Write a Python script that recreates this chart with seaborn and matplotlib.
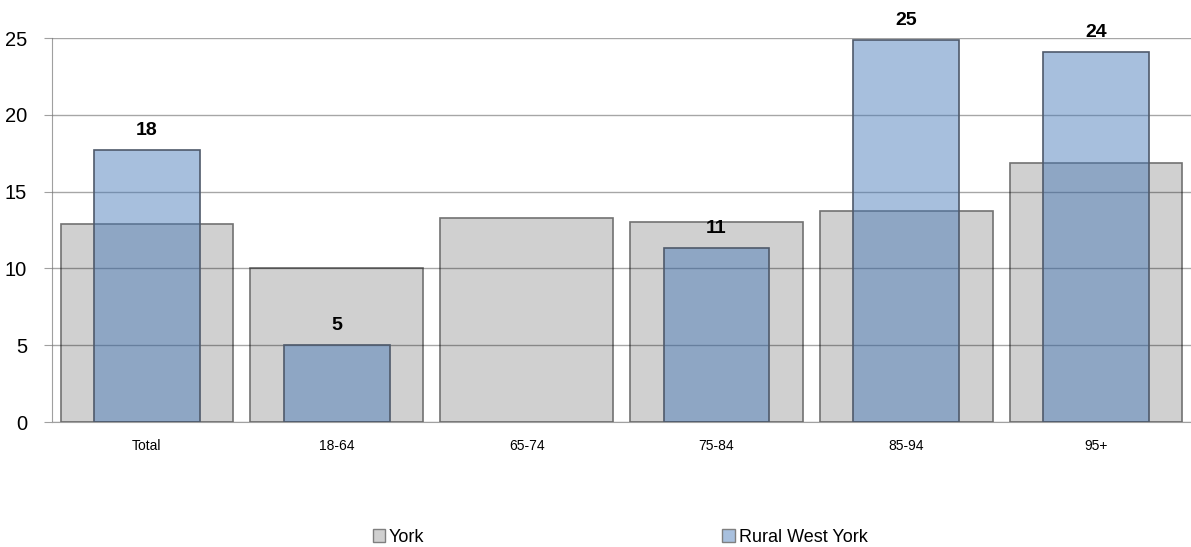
import numpy as np
import pandas as pd
import matplotlib
matplotlib.use("Agg")
import matplotlib.pyplot as plt
from matplotlib.colors import to_rgba
from matplotlib.patches import Patch
import seaborn as sns

# data
categories = ["Total", "18-64", "65-74", "75-84", "85-94", "95+"]
york = [12.9, 10.0, 13.25, 13.05, 13.75, 16.85]
rural = [17.7, 5.0, np.nan, 11.35, 24.85, 24.1]
rural_labels = ["18", "5", "", "11", "25", "24"]

df = pd.DataFrame({"Age": categories, "York": york, "Rural West York": rural})

sns.set_style("white")
plt.rcParams["font.family"] = ["Liberation Sans", "DejaVu Sans"]

fig = plt.figure(figsize=(11.91, 5.47), dpi=100)
ax = fig.add_axes([52 / 1191, 1 - 422 / 547, 1 - 52 / 1191, 384 / 547])

grey = "#d0d0d0"
blue = "#4578b8"

sns.barplot(data=df, x="Age", y="York", order=categories, color=grey,
            width=0.91, edgecolor="#727272", linewidth=1.2, saturation=1,
            ax=ax, zorder=2)
n_york = len(ax.patches)
sns.barplot(data=df, x="Age", y="Rural West York", order=categories, color=blue,
            width=0.556, edgecolor="#4f5a6b", linewidth=1.2, saturation=1,
            ax=ax, zorder=3)

# translucent fill, solid edge for the rural bars
for p in ax.patches[n_york:]:
    p.set_alpha(None)
    p.set_facecolor(to_rgba(blue, 0.47))
    p.set_edgecolor("#4f5a6b")

# labels above the rural bars
for i, (v, lab) in enumerate(zip(rural, rural_labels)):
    if lab:
        ax.annotate(lab, (i, v), xytext=(0, 14), textcoords="offset points",
                    ha="center", va="center", fontsize=14, fontweight="bold",
                    color="black")

ax.set_xlim(-0.5, len(categories) - 0.5)
ax.set_ylim(0, 25)
ax.set_yticks([0, 5, 10, 15, 20, 25])
ax.grid(axis="y", color="black", alpha=0.35, linewidth=1, zorder=4)
ax.set_axisbelow(False)

ax.set_xlabel("")
ax.set_ylabel("")
ax.tick_params(axis="x", which="major", length=0, labelsize=10, pad=12,
               labelcolor="black")
ax.set_xticks(np.arange(-0.5, len(categories) + 0.5, 1), minor=True)
ax.tick_params(axis="x", which="minor", length=5, color="#a0a0a0", direction="out")
ax.tick_params(axis="y", length=6, color="#a0a0a0", labelsize=14.5, pad=12,
               left=True, labelcolor="black")

for s in ["top", "right"]:
    ax.spines[s].set_visible(False)
ax.spines["left"].set_color("#a0a0a0")
ax.spines["bottom"].set_color("#a0a0a0")

handles = [
    Patch(facecolor=grey, edgecolor="#7f7f7f", label="York"),
    Patch(facecolor="#a8c0de", edgecolor="#7f7f7f", label="Rural West York"),
]
fig.legend(handles=handles, loc="center", bbox_to_anchor=(620 / 1191, 1 - 537 / 547),
           ncol=2, frameon=False, fontsize=13, handlelength=0.7, handleheight=0.7,
           handletextpad=0.2, columnspacing=16.5, labelcolor="black")

fig.savefig("out.png", dpi=100)
